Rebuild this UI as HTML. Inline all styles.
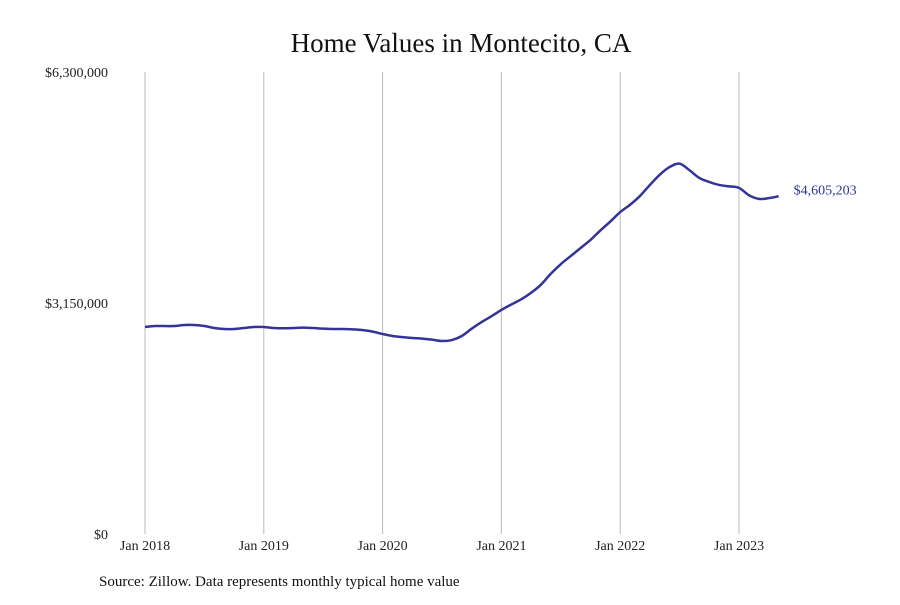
<!DOCTYPE html>
<html><head><meta charset="utf-8"><style>
body{margin:0;background:#fff;}
svg text{font-family:"Liberation Serif",serif;}
</style></head><body>
<svg width="900" height="600">
<text x="461" y="52" text-anchor="middle" font-size="27" fill="#111">Home Values in Montecito, CA</text>
<g id="grid"></g><g id="yt"></g><g id="xt"></g>
<path id="line" fill="none" stroke="#33339a" stroke-width="2.5" stroke-linejoin="round"/>
<text id="endlabel" font-size="14" fill="#33339a"></text>
<text x="99" y="586" font-size="15" fill="#111">Source: Zillow. Data represents monthly typical home value</text>
</svg>
<script>
const yearLabels=["Jan 2018","Jan 2019","Jan 2020","Jan 2021","Jan 2022","Jan 2023"];
const yTicks=[0,3150000,6300000];
const yTickLabels=["$0","$3,150,000","$6,300,000"];
const values=[2.823,2.836,2.836,2.836,2.850,2.850,2.836,2.809,2.795,2.795,2.809,2.823,
2.823,2.809,2.805,2.809,2.814,2.809,2.800,2.795,2.795,2.790,2.780,2.760,
2.727,2.700,2.685,2.672,2.665,2.650,2.632,2.645,2.700,2.800,2.890,2.970,
3.055,3.13,3.20,3.29,3.40,3.55,3.68,3.79,3.90,4.01,4.14,4.26,
4.39,4.49,4.61,4.76,4.90,5.005,5.05,4.96,4.855,4.80,4.76,4.74,
4.72,4.62,4.57,4.58,4.605203].map(v=>v*1e6);
const lastLabel="$4,605,203";
const NS="http://www.w3.org/2000/svg";
const x0=145,pxm=(739-145)/60,yb=534,yt=72;
const X=m=>x0+m*pxm, Y=v=>yb-(v/6300000)*(yb-yt);
const grid=document.getElementById('grid'),xt=document.getElementById('xt'),ytg=document.getElementById('yt');
yearLabels.forEach((l,i)=>{
 const ln=document.createElementNS(NS,'line');
 ln.setAttribute('x1',X(i*12));ln.setAttribute('x2',X(i*12));ln.setAttribute('y1',yt);ln.setAttribute('y2',yb);
 ln.setAttribute('stroke','#bbb');ln.setAttribute('stroke-width','1');
 
 
 grid.appendChild(ln);
 const t=document.createElementNS(NS,'text');
 t.setAttribute('x',X(i*12));t.setAttribute('y',550);t.setAttribute('text-anchor','middle');t.setAttribute('font-size','14');t.setAttribute('fill','#222');
 t.textContent=l;
 
 
 xt.appendChild(t);
});
yTicks.forEach((v,i)=>{
 const t=document.createElementNS(NS,'text');
 t.setAttribute('x',108);t.setAttribute('y',Y(v)+5);t.setAttribute('text-anchor','end');t.setAttribute('font-size','14');t.setAttribute('fill','#222');
 t.textContent=yTickLabels[i];
 
 
 ytg.appendChild(t);
});
const pts=values.map((v,i)=>[X(i),Y(v)]);
let d="M"+pts[0][0]+","+pts[0][1];
for(let i=0;i<pts.length-1;i++){
 const p0=pts[i-1]||pts[i],p1=pts[i],p2=pts[i+1],p3=pts[i+2]||p2;
 d+=" C"+(p1[0]+(p2[0]-p0[0])/6)+","+(p1[1]+(p2[1]-p0[1])/6)+" "+(p2[0]-(p3[0]-p1[0])/6)+","+(p2[1]-(p3[1]-p1[1])/6)+" "+p2[0]+","+p2[1];
}
document.getElementById('line').setAttribute('d',d);
const el=document.getElementById('endlabel');
const lp=pts[pts.length-1];
el.setAttribute('x',lp[0]+15);el.setAttribute('y',lp[1]-2);
el.textContent=lastLabel;
</script>
</body></html>
